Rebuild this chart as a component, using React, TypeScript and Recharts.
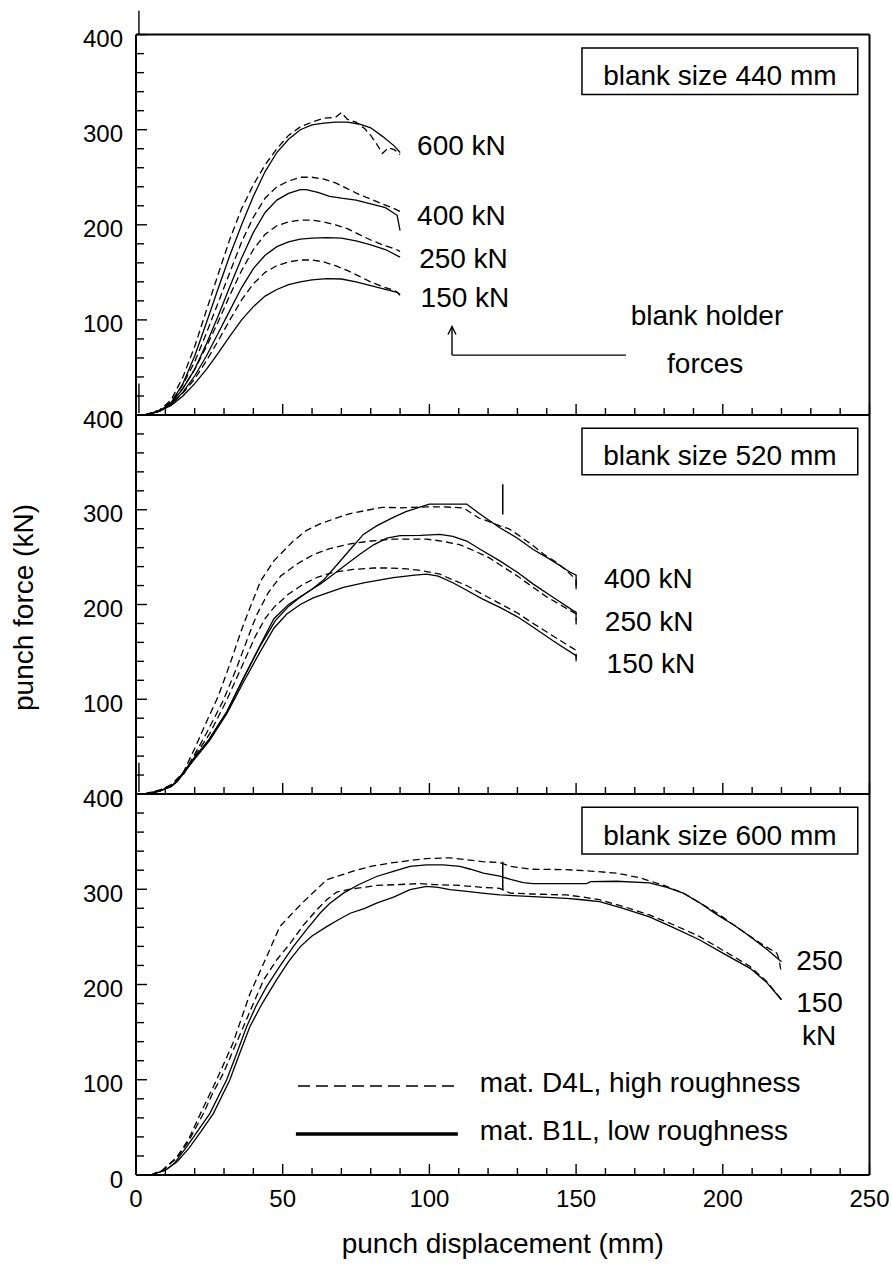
import React from 'react';
import { LineChart, Line, XAxis, YAxis, ReferenceLine, ReferenceArea, ReferenceDot } from 'recharts';

const FONT = '"Liberation Sans", Arial, Helvetica, sans-serif';

// ---------- axis ticks ----------
const xTicks = [0, 10, 20, 30, 40, 50, 60, 70, 80, 90, 100, 110, 120, 130, 140, 150, 160, 170, 180, 190, 200, 210, 220, 230, 240, 250];
const xTickLabels = [0, 50, 100, 150, 200, 250];
const yTicks = [0, 20, 40, 60, 80, 100, 120, 140, 160, 180, 200, 220, 240, 260, 280, 300, 320, 340, 360, 380, 400];
const yTickLabels = [0, 100, 200, 300, 400];

// ---------- blank size 440 mm ----------
const b440_D4L_600 = [[3,0],[8,5],[12,16],[16,40],[20,72],[24,110],[28,148],[32,185],[36,217],[40,242],[44,263],[48,280],[52,294],[56,303],[60,308],[64,312],[68,313],[70,318],[72,311],[75,308],[78,301],[80,294],[82,285],[84,275],[86,281],[88,279],[90,274]];
const b440_B1L_600 = [[3,0],[8,4],[12,13],[16,33],[20,62],[24,97],[28,133],[32,168],[36,200],[40,230],[44,256],[48,276],[52,290],[56,300],[60,305],[64,307],[68,308],[72,308],[76,306],[80,302],[84,293],[88,283],[90,276]];
const b440_D4L_400 = [[3,0],[8,5],[12,14],[16,32],[20,56],[24,86],[28,118],[32,150],[36,182],[40,208],[44,228],[48,240],[52,246],[56,250],[60,250],[64,248],[68,244],[72,238],[76,232],[80,227],[84,222],[88,217],[90,214]];
const b440_B1L_400 = [[3,0],[8,4],[12,12],[16,28],[20,48],[24,75],[28,104],[32,135],[36,165],[40,192],[44,213],[48,226],[52,233],[56,237],[58,237],[62,234],[66,230],[70,228],[75,226],[80,222],[85,218],[89,210],[90,194]];
const b440_D4L_250 = [[3,0],[8,5],[12,13],[16,28],[20,48],[24,72],[28,98],[32,126],[36,152],[40,174],[44,190],[48,199],[52,203],[56,205],[60,205],[64,203],[68,200],[72,196],[76,190],[80,184],[84,179],[88,175],[90,172]];
const b440_B1L_250 = [[3,0],[8,4],[12,11],[16,24],[20,41],[24,62],[28,86],[32,110],[36,134],[40,154],[44,168],[48,177],[52,182],[56,185],[60,186],[65,186.5],[70,186],[75,183],[80,179],[85,174],[90,166]];
const b440_D4L_150 = [[3,0],[8,4],[12,11],[16,23],[20,38],[24,57],[28,78],[32,100],[36,121],[40,138],[44,150],[48,157],[52,161],[56,163],[60,163],[64,161],[68,157],[72,152],[76,146],[80,140],[84,135],[88,131],[90,127]];
const b440_B1L_150 = [[3,0],[8,4],[12,10],[16,20],[20,33],[24,48],[28,65],[32,83],[36,100],[40,114],[44,125],[48,132],[52,137],[56,140],[60,142],[65,143.5],[70,143],[75,140],[80,136],[85,132],[89,129],[90,126]];

// ---------- blank size 520 mm ----------
const b520_D4L_400 = [[3,0],[8,4],[12,10],[16,22],[20,48],[24,76],[28,103],[32,137],[35.5,169],[38,190],[42.5,225],[47,246],[53.6,267],[58,278],[62.7,285],[68,291],[73,296],[78,299],[84,302.6],[90,302],[99,303],[105,303],[111.6,302],[117,291],[120,288],[124,283],[127,280],[130,274],[135,263],[139,253],[143,245],[146.7,236],[150,226],[150,216]];
const b520_B1L_400 = [[3,0],[8,3],[12,8],[14,14],[19.5,36],[25,58],[31,87],[36.6,122],[42.3,156],[47.5,183],[52,198],[56,208],[60,216],[64,226],[68.5,242],[73,258],[77.5,274],[82,283],[87.7,292],[92,298],[97,303],[100,306],[112.7,306],[117,296],[124,281],[130,270],[135.4,258],[142,246],[148,234],[150,231],[150,216]];
const b520_D4L_250 = [[3,0],[8,4],[12,9],[16,20],[20,42],[24,64],[29.8,99],[34.4,134],[39,172],[41.3,190],[45,212],[49.3,230],[55,243],[60.7,253],[66,259],[73,264],[80,267],[87.7,269],[99,269],[104,267],[110.5,263],[115,257],[120,250],[124,242],[130,230],[135.4,218],[140,208],[145,199],[150,190],[150,183]];
const b520_B1L_250 = [[3,0],[8,3],[12,8],[14,14],[19.5,37],[25,58],[31,87],[36.6,122],[42.3,157],[47,185],[52,200],[56,208],[59.3,214.7],[63,222],[67.3,232],[72,243],[76.3,253],[81,263],[85.5,270],[90,272.6],[97,273],[103.6,274],[108,272],[112.7,267],[118,257],[124,246],[130,234],[135.4,221.5],[142,208],[149,193.5],[150,192],[150,179]];
const b520_D4L_150 = [[3,0],[8,3],[12,9],[16,20],[20,40],[25.2,64],[30.9,99],[36,134],[40.6,166],[44,185],[47,197],[52,211],[57.1,221.6],[62,229],[67.3,234],[74,237],[80.9,238.5],[86,238.5],[92.3,237.6],[97,236],[103.6,232],[108,226],[112.7,220],[118,211],[124,201],[130,191],[135.4,180],[142,167],[150,151.6],[150,143]];
const b520_B1L_150 = [[3,0],[8,3],[12,8],[14,13],[19.5,35],[25,56],[31,85],[36.6,118],[42.3,150],[47,175],[51.4,190],[56,200],[60.4,207],[65,212],[70.7,218],[78,223],[87.7,228.4],[95,231],[99,232],[103,230],[108,223],[112.7,215],[118,206],[124,197],[130,187],[135.4,176],[142,162],[150,146],[150,140]];

// ---------- blank size 600 mm ----------
const b600_D4L_250 = [[5,0],[9,5],[14,19],[18,38],[22,64.7],[27.5,100],[33,138],[38.8,190],[44.5,229],[49,260.8],[56,283.6],[65,310],[74,319],[80,324],[87.7,328],[93,330],[99,332.2],[107,333],[112.7,331],[118,329],[124,328],[127.5,324],[135,321],[146.7,320.6],[155,319],[163.8,317],[171.7,312],[180,304],[186.5,296],[192,286],[198,275],[204,262],[209.3,250.5],[214,241],[218.4,233],[219,228],[220,212]];
const b600_B1L_250 = [[5,0],[10,5],[13,12],[17.3,29.8],[21,46],[25.2,64.7],[30.9,100],[34,125],[37.7,155.7],[41,178],[44.5,197.7],[49,219],[53.6,239.8],[58,257],[62.7,274.8],[66,285],[70.7,295.9],[76,305],[82,313.4],[88,319],[93.4,324],[99,325.6],[104.7,325.6],[110.4,324],[114,321],[118.4,317],[124,313.7],[128,310],[132,307],[135.4,305.9],[153.6,305.9],[155,308],[163.8,308.4],[175,306.6],[181,302],[186.5,296],[192,286],[198,273.4],[204,262],[209.3,250.5],[215,237],[220,224]];
const b600_D4L_150 = [[5,0],[9,5],[14,18],[18,36],[23,64.7],[26,85],[29.8,107],[33,130],[36.6,155.7],[40,180],[43.5,204.8],[48,226],[52.5,243],[57,262],[61.5,278],[65,289],[68.4,297],[73,300],[82,304],[90,305],[97,306],[101.3,305],[110.5,304],[118,302],[124,301],[127.5,296],[135,295],[146.7,294],[152,292],[158,289],[166,282],[175,273],[183,263],[192,250.5],[200,236],[209.3,219],[215,203],[220,184]];
const b600_B1L_150 = [[5,0],[10,5],[14,14],[18,28],[22,45],[26.4,64.7],[32,100],[35,125],[38.8,155.7],[43,180],[47.9,204.8],[52,224],[56,239.8],[60,251],[65,260.8],[69,268],[73,274.8],[78,280],[82,285.4],[88,292],[93.4,299.5],[99,303],[103,302],[107,299.5],[112,298],[118,296],[124,294],[135.4,292.3],[146.7,290.5],[152,289],[158,287],[166,280],[175,271],[183,260],[192,247],[200,233],[209.3,217],[215,202],[220,184]];

const toPts = (arr: number[][]) => arr.map(([x, y]) => ({ x, y }));

type S = { name: string; data: number[][]; dashed: boolean };
const series440: S[] = [
  { name: 'D4L 600', data: b440_D4L_600, dashed: true },
  { name: 'B1L 600', data: b440_B1L_600, dashed: false },
  { name: 'D4L 400', data: b440_D4L_400, dashed: true },
  { name: 'B1L 400', data: b440_B1L_400, dashed: false },
  { name: 'D4L 250', data: b440_D4L_250, dashed: true },
  { name: 'B1L 250', data: b440_B1L_250, dashed: false },
  { name: 'D4L 150', data: b440_D4L_150, dashed: true },
  { name: 'B1L 150', data: b440_B1L_150, dashed: false },
];
const series520: S[] = [
  { name: 'D4L 400', data: b520_D4L_400, dashed: true },
  { name: 'B1L 400', data: b520_B1L_400, dashed: false },
  { name: 'D4L 250', data: b520_D4L_250, dashed: true },
  { name: 'B1L 250', data: b520_B1L_250, dashed: false },
  { name: 'D4L 150', data: b520_D4L_150, dashed: true },
  { name: 'B1L 150', data: b520_B1L_150, dashed: false },
];
const series600: S[] = [
  { name: 'D4L 250', data: b600_D4L_250, dashed: true },
  { name: 'B1L 250', data: b600_B1L_250, dashed: false },
  { name: 'D4L 150', data: b600_D4L_150, dashed: true },
  { name: 'B1L 150', data: b600_B1L_150, dashed: false },
];

const TXT = { fontSize: 28, fill: '#000', fontFamily: FONT };

const YTick = (props: any) => {
  const { x, y, payload } = props;
  const v = payload.value;
  const ax = x + 13;
  const major = yTickLabels.includes(v);
  return (
    <g>
      <line x1={ax} y1={y} x2={ax + (major ? 11 : 8)} y2={y} stroke="#000" strokeWidth={1.4} />
      {major && (
        <text x={x} y={y + 4} dy="0.355em" textAnchor="end" fontSize={24} fontFamily={FONT} fill="#000">
          {v}
        </text>
      )}
    </g>
  );
};

const makeXTick = (showLabels: boolean) => (props: any) => {
  const { x, y, payload } = props;
  const v = payload.value;
  const ay = y - 15;
  const major = xTickLabels.includes(v);
  return (
    <g>
      <line x1={x} y1={ay} x2={x} y2={ay - (major ? 11 : 7)} stroke="#000" strokeWidth={1.4} />
      {showLabels && major && (
        <text x={x} y={y} dy="0.71em" textAnchor="middle" fontSize={24} fontFamily={FONT} fill="#000">
          {v}
        </text>
      )}
    </g>
  );
};

const Arrow = (p: any) => {
  const { x1, y1, x2, y2 } = p;
  const tipY = Math.min(y1, y2);
  return (
    <g>
      <line x1={x1} y1={y1} x2={x2} y2={y2} stroke="#000" strokeWidth={1.4} />
      <path d={`M${x1 - 4},${tipY + 8} L${x1},${tipY} L${x1 + 4},${tipY + 8}`} fill="none" stroke="#000" strokeWidth={1.4} />
    </g>
  );
};

const yTitle = (p: any) => {
  const vb = p.viewBox || { x: 76, y: 415, width: 60, height: 379 };
  const cx = vb.x - 43;
  const cy = vb.y + vb.height / 2 + 3;
  return (
    <text transform={`translate(${cx},${cy}) rotate(-90)`} textAnchor="middle" fontSize={28} fontFamily={FONT} fill="#000">
      punch force (kN)
    </text>
  );
};

const renderLines = (list: S[]) =>
  list.map((s) => (
    <Line
      key={s.name}
      name={s.name}
      data={toPts(s.data)}
      dataKey="y"
      type="linear"
      stroke="#000"
      strokeWidth={1.3}
      strokeDasharray={s.dashed ? '7 4' : undefined}
      dot={false}
      activeDot={false}
      isAnimationActive={false}
    />
  ));

const axisLine = { stroke: '#000', strokeWidth: 2 };

function Panel(props: { top: number; bottom: number; xh: number; labels: boolean; children: any; title?: boolean; xTitle?: boolean }) {
  const { top, bottom, xh, labels, children, title, xTitle } = props;
  return (
    <div style={{ position: 'absolute', left: 0, top: 0 }}>
      <LineChart width={892} height={1273} margin={{ top, right: 22.5, bottom: 1273 - bottom - xh, left: 76 }}>
        <XAxis
          dataKey="x"
          type="number"
          domain={[0, 250]}
          ticks={xTicks}
          interval={0}
          tickSize={0}
          tickMargin={15}
          tickLine={false}
          axisLine={axisLine}
          height={xh}
          tick={makeXTick(labels)}
          label={xTitle ? { value: 'punch displacement (mm)', position: 'insideBottom', offset: 12, ...TXT } : undefined}
        />
        <YAxis
          type="number"
          domain={[0, 400]}
          ticks={yTicks}
          interval={0}
          tickSize={0}
          tickMargin={13}
          tickLine={false}
          axisLine={axisLine}
          width={60}
          tick={YTick}
          label={title ? { content: yTitle } : undefined}
        />
        <ReferenceLine x={250} stroke="#000" strokeWidth={2} />
        {children}
      </LineChart>
    </div>
  );
}

export default function App() {
  return (
    <div style={{ position: 'absolute', left: 0, top: 0, width: 892, height: 1273, background: '#fff', fontFamily: FONT }}>
      {/* blank size 440 mm */}
      <Panel top={34.6} bottom={415} xh={40} labels={false}>
        {[
          <ReferenceLine key="top" y={400} stroke="#000" strokeWidth={2} />,
          <ReferenceLine key="ext" segment={[{ x: 1, y: 400 }, { x: 1, y: 425 }]} stroke="#000" strokeWidth={1.4} ifOverflow="visible" />,
          <ReferenceLine key="m0" segment={[{ x: 1, y: 2 }, { x: 1, y: 33 }]} stroke="#000" strokeWidth={1.4} />,
          ...renderLines(series440),
          <ReferenceArea key="box" x1={152} x2={246} y1={337} y2={386} fill="#fff" fillOpacity={1} stroke="#000" strokeWidth={1.5} label={{ value: 'blank size 440 mm', position: 'center', dy: 4, ...TXT }} />,
          <ReferenceDot key="l600" x={95.8} y={284} r={0} fill="none" stroke="none" label={{ value: '600 kN', position: 'right', offset: 0, ...TXT }} />,
          <ReferenceDot key="l400" x={95.8} y={210} r={0} fill="none" stroke="none" label={{ value: '400 kN', position: 'right', offset: 0, ...TXT }} />,
          <ReferenceDot key="l250" x={96.5} y={165} r={0} fill="none" stroke="none" label={{ value: '250 kN', position: 'right', offset: 0, ...TXT }} />,
          <ReferenceDot key="l150" x={97} y={124} r={0} fill="none" stroke="none" label={{ value: '150 kN', position: 'right', offset: 0, ...TXT }} />,
          <ReferenceDot key="bh" x={194.6} y={105} r={0} fill="none" stroke="none" label={{ value: 'blank holder', position: 'center', ...TXT }} />,
          <ReferenceDot key="fo" x={194} y={55} r={0} fill="none" stroke="none" label={{ value: 'forces', position: 'center', ...TXT }} />,
          <ReferenceLine key="arV" segment={[{ x: 107.7, y: 63 }, { x: 107.7, y: 93 }]} shape={Arrow} />,
          <ReferenceLine key="arH" segment={[{ x: 107.7, y: 63 }, { x: 167, y: 63 }]} stroke="#000" strokeWidth={1.4} />,
        ]}
      </Panel>

      {/* blank size 520 mm */}
      <Panel top={415} bottom={794} xh={40} labels={false} title>
        {[
          <ReferenceLine key="m0" segment={[{ x: 1, y: 2 }, { x: 1, y: 33 }]} stroke="#000" strokeWidth={1.4} />,
          ...renderLines(series520),
          <ReferenceLine key="mark" segment={[{ x: 125, y: 295 }, { x: 125, y: 327 }]} stroke="#000" strokeWidth={1.5} />,
          <ReferenceArea key="box" x1={152} x2={246} y1={337} y2={386} fill="#fff" fillOpacity={1} stroke="#000" strokeWidth={1.5} label={{ value: 'blank size 520 mm', position: 'center', dy: 4, ...TXT }} />,
          <ReferenceDot key="l400" x={159.5} y={228} r={0} fill="none" stroke="none" label={{ value: '400 kN', position: 'right', offset: 0, ...TXT }} />,
          <ReferenceDot key="l250" x={159.8} y={182} r={0} fill="none" stroke="none" label={{ value: '250 kN', position: 'right', offset: 0, ...TXT }} />,
          <ReferenceDot key="l150" x={160.4} y={138} r={0} fill="none" stroke="none" label={{ value: '150 kN', position: 'right', offset: 0, ...TXT }} />,
        ]}
      </Panel>

      {/* blank size 600 mm */}
      <Panel top={794} bottom={1175} xh={90} labels xTitle>
        {[
          ...renderLines(series600),
          <ReferenceLine key="mark" segment={[{ x: 125, y: 299 }, { x: 125, y: 329 }]} stroke="#000" strokeWidth={1.5} />,
          <ReferenceArea key="box" x1={152} x2={246} y1={337} y2={386} fill="#fff" fillOpacity={1} stroke="#000" strokeWidth={1.5} label={{ value: 'blank size 600 mm', position: 'center', dy: 4, ...TXT }} />,
          <ReferenceDot key="l250" x={225} y={226} r={0} fill="none" stroke="none" label={{ value: '250', position: 'right', offset: 0, ...TXT }} />,
          <ReferenceDot key="l150" x={225} y={182} r={0} fill="none" stroke="none" label={{ value: '150', position: 'right', offset: 0, ...TXT }} />,
          <ReferenceDot key="lkN" x={227} y={147} r={0} fill="none" stroke="none" label={{ value: 'kN', position: 'right', offset: 0, ...TXT }} />,
          <ReferenceLine key="legD" segment={[{ x: 55.2, y: 93.5 }, { x: 109.4, y: 93.5 }]} stroke="#000" strokeWidth={1.5} strokeDasharray="12 6" />,
          <ReferenceLine key="legS" segment={[{ x: 54.5, y: 43 }, { x: 109.7, y: 43 }]} stroke="#000" strokeWidth={3.5} />,
          <ReferenceDot key="tD" x={117.2} y={97.7} r={0} fill="none" stroke="none" label={{ value: 'mat. D4L, high roughness', position: 'right', offset: 0, ...TXT }} />,
          <ReferenceDot key="tS" x={117.2} y={47.3} r={0} fill="none" stroke="none" label={{ value: 'mat. B1L, low roughness', position: 'right', offset: 0, ...TXT }} />,
        ]}
      </Panel>
    </div>
  );
}
